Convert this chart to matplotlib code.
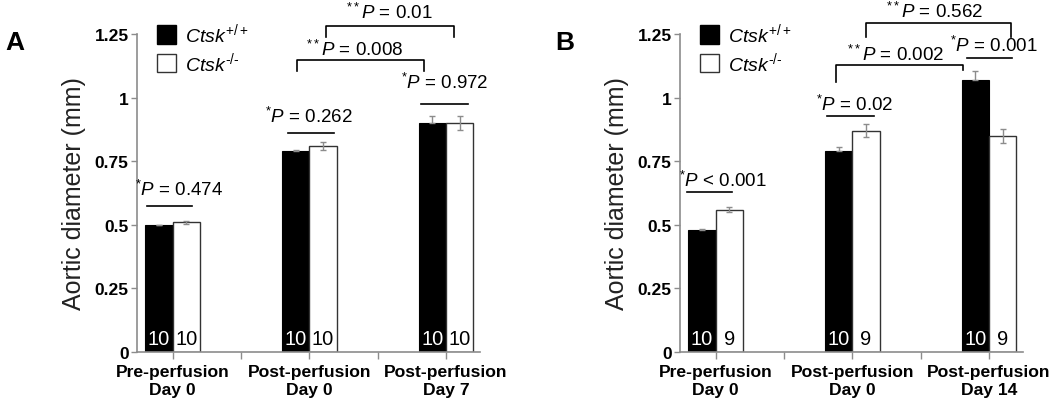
import matplotlib
matplotlib.use("Agg")
import matplotlib.pyplot as plt
from matplotlib.patches import Patch

plt.rcParams['font.family'] = ['Liberation Sans', 'DejaVu Sans']
plt.rcParams['mathtext.fontset'] = 'custom'
plt.rcParams['mathtext.rm'] = 'Liberation Sans'
plt.rcParams['mathtext.it'] = 'Liberation Sans:italic'
plt.rcParams['mathtext.bf'] = 'Liberation Sans:bold'

# ---------------- data ----------------
categories_a = ["Pre-perfusion\nDay 0", "Post-perfusion\nDay 0", "Post-perfusion\nDay 7"]
categories_b = ["Pre-perfusion\nDay 0", "Post-perfusion\nDay 0", "Post-perfusion\nDay 14"]
series_names = [r"$\it{Ctsk}^{+/+}$", "$\\it{Ctsk}^{\\mathrm{\u2010/\u2010}}$"]

wt_a = [0.50, 0.79, 0.90]
ko_a = [0.51, 0.81, 0.90]
wt_err_a = [0.0, 0.005, 0.026]
ko_err_a = [0.005, 0.015, 0.027]
n_wt_a = [10, 10, 10]
n_ko_a = [10, 10, 10]

wt_b = [0.48, 0.79, 1.07]
ko_b = [0.56, 0.87, 0.85]
wt_err_b = [0.003, 0.015, 0.036]
ko_err_b = [0.01, 0.025, 0.028]
n_wt_b = [10, 10, 10]
n_ko_b = [9, 9, 9]

yticks = [0, 0.25, 0.5, 0.75, 1, 1.25]
ytick_labels = ["0", "0.25", "0.5", "0.75", "1", "1.25"]

# within-group annotations: (line x0, line x1, line y, label, text x, text y)
pair_a = [(-0.19, 0.146, 0.574, r"$^{*}\it{P}$ = 0.474", 0.044, 0.64),
          (0.847, 1.18, 0.861, r"$^{*}\it{P}$ = 0.262", 1.0, 0.928),
          (1.82, 2.16, 0.975, r"$^{*}\it{P}$ = 0.972", 1.993, 1.06)]
pair_b = [(-0.21, 0.12, 0.628, r"$^{*}\it{P}$ < 0.001", 0.056, 0.676),
          (0.815, 1.157, 0.926, r"$^{*}\it{P}$ = 0.02", 1.015, 0.975),
          (1.837, 2.17, 1.154, r"$^{*}\it{P}$ = 0.001", 2.04, 1.207)]
# between-group brackets: (x0, x1, y, left drop y, right drop y, label, text x, text y)
brk_a = [(0.91, 1.84, 1.148, 1.106, 1.106, r"$^{**}\it{P}$ = 0.008", 1.33, 1.19),
         (1.12, 2.06, 1.28, 1.24, 1.24, r"$^{**}\it{P}$ = 0.01", 1.59, 1.335)]
brk_b = [(0.88, 1.81, 1.128, 1.06, 1.108, r"$^{**}\it{P}$ = 0.002", 1.32, 1.171),
         (1.10, 2.16, 1.293, 1.237, 1.237, r"$^{**}\it{P}$ = 0.562", 1.60, 1.34)]

# ---------------- figure ----------------
fig = plt.figure(figsize=(10.5, 4.1), dpi=100)
ax_a = fig.add_axes([137/1050, 57/410, 343/1050, 318/410])
ax_b = fig.add_axes([680/1050, 57/410, 343/1050, 318/410])

W = 0.2
GRAY = '#8c8c8c'


def draw(ax, cats, wt, ko, wt_err, ko_err, n_wt, n_ko, pairs, brks, letter, letter_x):
    x = list(range(len(cats)))
    xw = [i - W / 2 for i in x]
    xk = [i + W / 2 for i in x]
    ax.bar(xw, wt, width=W, color='black', edgecolor='black', linewidth=0.8,
           yerr=[[0] * len(wt), wt_err], ecolor=GRAY, capsize=2.5,
           error_kw=dict(elinewidth=1, capthick=1), zorder=2)
    ax.bar(xk, ko, width=W, color='white', edgecolor='#333333', linewidth=1.0,
           yerr=ko_err, ecolor=GRAY, capsize=2.5,
           error_kw=dict(elinewidth=1, capthick=1), zorder=2)
    for i in x:
        ax.text(xw[i], 0.052, str(n_wt[i]), color='white', ha='center', va='center',
                fontsize=14.5, zorder=3)
        ax.text(xk[i], 0.052, str(n_ko[i]), color='black', ha='center', va='center',
                fontsize=14.5, zorder=3)
    ax.set_xlim(-0.26, 2.25)
    ax.set_ylim(0, 1.25)
    ax.set_yticks(yticks)
    ax.set_yticklabels(ytick_labels, fontweight='bold', fontsize=12.5)
    ax.set_xticks(x)
    ax.set_xticklabels(cats, fontweight='bold', fontsize=12.6, linespacing=1.2)
    ax.set_xticks([0.5, 1.5], minor=True)
    ax.tick_params(axis='x', which='both', length=5, color=GRAY, width=1, pad=4)
    ax.tick_params(axis='y', length=4, color=GRAY, width=1, pad=2)
    for s in ['top', 'right']:
        ax.spines[s].set_visible(False)
    for s in ['left', 'bottom']:
        ax.spines[s].set_color(GRAY)
        ax.spines[s].set_linewidth(1.2)
    ax.set_ylabel("Aortic diameter (mm)", fontsize=18, color='#222222', labelpad=6)

    for (x0, x1, ly, lab, tx, ty) in pairs:
        ax.plot([x0, x1], [ly, ly], color='black', lw=1.2, clip_on=False)
        ax.text(tx, ty, lab, ha='center', va='center', fontsize=13.5, clip_on=False)
    for (x0, x1, y, yl, yr, lab, tx, ty) in brks:
        ax.plot([x0, x0, x1, x1], [yl, y, y, yr], color='black', lw=1.2, clip_on=False)
        ax.text(tx, ty, lab, ha='center', va='center', fontsize=13.5, clip_on=False)

    handles = [Patch(facecolor='black', edgecolor='black'),
               Patch(facecolor='white', edgecolor='#333333')]
    ax.legend(handles, series_names, loc='upper left', bbox_to_anchor=(0.035, 1.065),
              frameon=False, fontsize=14, handlelength=1.0, handleheight=1.1,
              handletextpad=0.45, labelspacing=0.25, borderaxespad=0)
    ax.text(letter_x, 0.975, letter, transform=ax.transAxes, fontsize=19,
            fontweight='bold', ha='center', va='center')


draw(ax_a, categories_a, wt_a, ko_a, wt_err_a, ko_err_a, n_wt_a, n_ko_a, pair_a, brk_a, "A", -0.355)
draw(ax_b, categories_b, wt_b, ko_b, wt_err_b, ko_err_b, n_wt_b, n_ko_b, pair_b, brk_b, "B", -0.335)

fig.savefig("out.png", dpi=100)
